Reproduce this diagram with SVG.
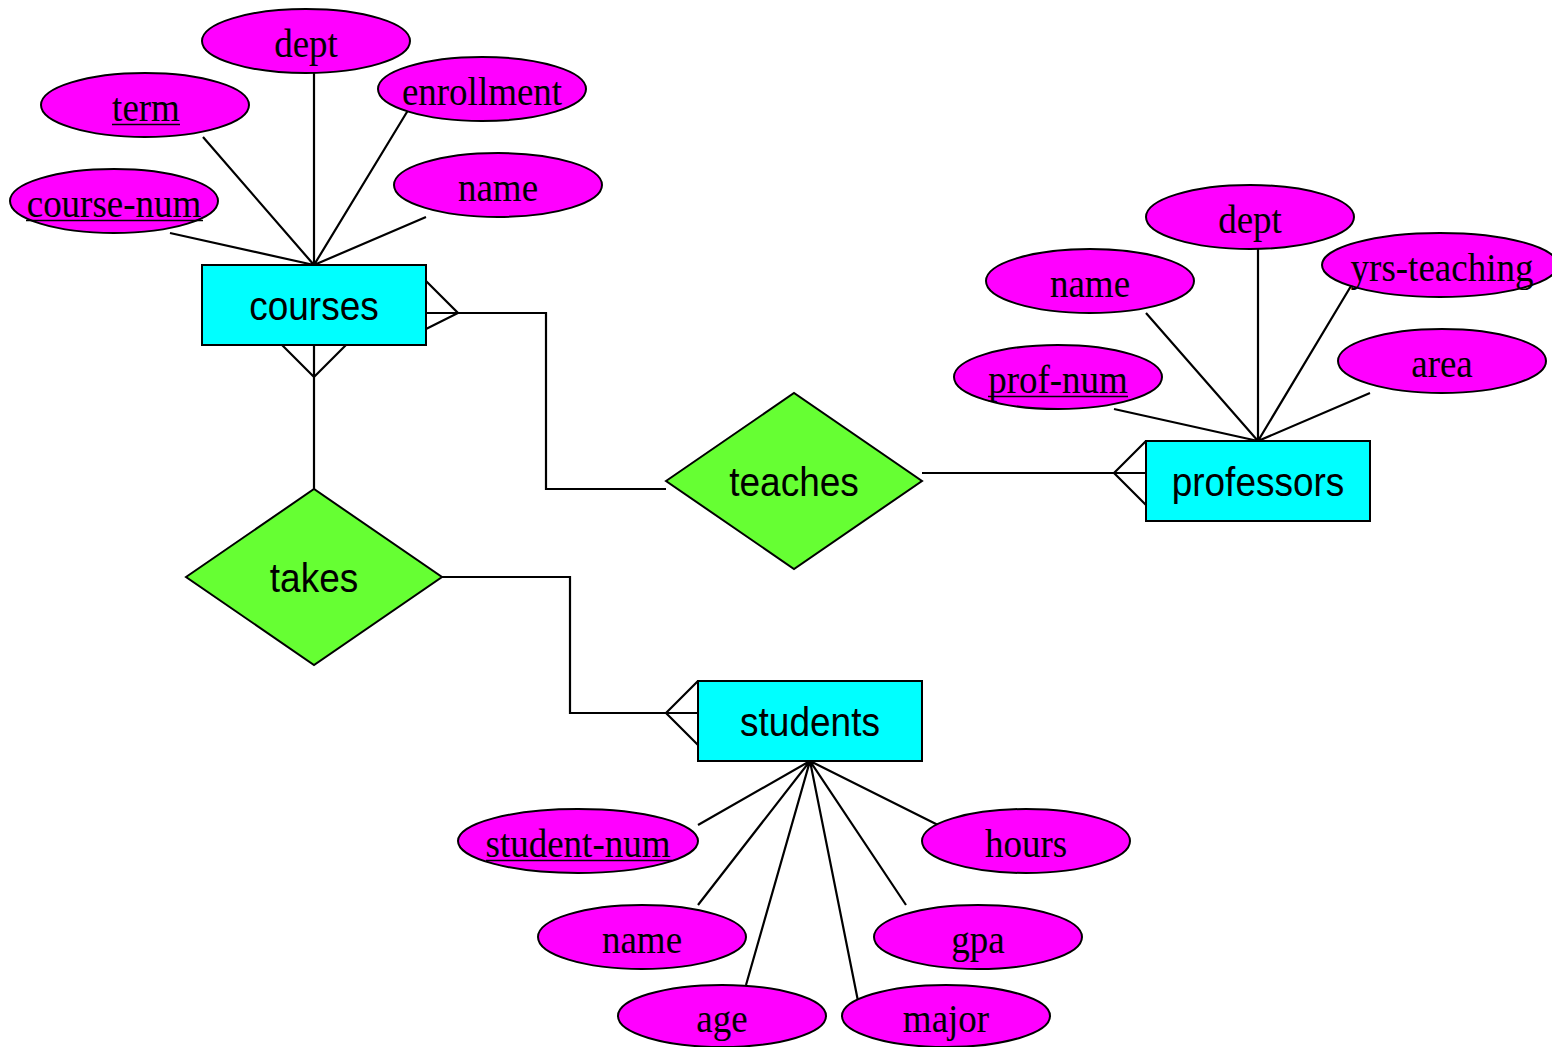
<svg xmlns="http://www.w3.org/2000/svg" width="1552" height="1047" viewBox="0 0 1552 1047">
<style>
.ent{fill:#00ffff;stroke:#000;stroke-width:2}
.rel{fill:#66ff33;stroke:#000;stroke-width:2}
.att{fill:#ff00ff;stroke:#000;stroke-width:2}
.ln{fill:none;stroke:#000;stroke-width:2.2}
.at{font-family:"Liberation Serif","Times New Roman",serif;font-size:37px;fill:#000;text-anchor:middle}
.et{font-family:"Liberation Sans",Arial,sans-serif;font-size:37px;fill:#000;text-anchor:middle}
.ul{stroke:#000;stroke-width:1.6}
</style>
<rect width="1552" height="1047" fill="#fff"/>
<g id="connectors">
  <path class="ln" d="M170,233 L314,265 M203,137 L314,265 M314,73 L314,265 M410,107 L314,265 M426,217 L314,265"/>
  <path class="ln" d="M1114,409 L1258,441 M1146,313 L1258,441 M1258,249 L1258,441 M1354,281 L1258,441 M1370,393 L1258,441"/>
  <path class="ln" d="M698,825 L810,761 M938,825 L810,761 M698,905 L810,761 M906,905 L810,761 M746,985 L810,761 M858,1001 L810,761"/>
  <path class="ln" d="M426,281 L458,313 L426,329 M426,313 L546,313 L546,489 L666,489"/>
  <path class="ln" d="M282,345 L314,377 L346,345 M314,345 L314,489"/>
  <path class="ln" d="M922,473 L1146,473 M1146,441 L1114,473 L1146,505"/>
  <path class="ln" d="M442,577 L570,577 L570,713 L698,713 M698,681 L666,713 L698,745"/>
</g>
<g id="courses">
  <rect class="ent" x="202" y="265" width="224" height="80"/>
  <text class="et" transform="translate(314,320) scale(1,1.12)">courses</text>
</g>
<g id="professors">
  <rect class="ent" x="1146" y="441" width="224" height="80"/>
  <text class="et" transform="translate(1258,496) scale(1,1.12)">professors</text>
</g>
<g id="students">
  <rect class="ent" x="698" y="681" width="224" height="80"/>
  <text class="et" transform="translate(810,736) scale(1,1.12)">students</text>
</g>
<g id="teaches">
  <polygon class="rel" points="666,481 794,393 922,481 794,569"/>
  <text class="et" transform="translate(794,496) scale(1,1.12)">teaches</text>
</g>
<g id="takes">
  <polygon class="rel" points="186,577 314,489 442,577 314,665"/>
  <text class="et" transform="translate(314,592) scale(1,1.12)">takes</text>
</g>
<g id="c-dept"><ellipse class="att" cx="306" cy="41" rx="104" ry="32"/><text class="at" transform="translate(306,57) scale(1,1.07)">dept</text></g>
<g id="c-term"><ellipse class="att" cx="145" cy="105" rx="104" ry="32"/><text class="at" transform="translate(146,121) scale(1,1.07)">term</text><line class="ul" x1="112" y1="124.5" x2="180" y2="124.5"/></g>
<g id="c-enrollment"><ellipse class="att" cx="482" cy="89" rx="104" ry="32"/><text class="at" transform="translate(482,105) scale(1,1.07)">enrollment</text></g>
<g id="c-course-num"><ellipse class="att" cx="114" cy="201" rx="104" ry="32"/><text class="at" transform="translate(114,217) scale(1,1.07)">course-num</text><line class="ul" x1="26" y1="220.5" x2="203" y2="220.5"/></g>
<g id="c-name"><ellipse class="att" cx="498" cy="185" rx="104" ry="32"/><text class="at" transform="translate(498,201) scale(1,1.07)">name</text></g>
<g id="p-dept"><ellipse class="att" cx="1250" cy="217" rx="104" ry="32"/><text class="at" transform="translate(1250,233) scale(1,1.07)">dept</text></g>
<g id="p-name"><ellipse class="att" cx="1090" cy="281" rx="104" ry="32"/><text class="at" transform="translate(1090,297) scale(1,1.07)">name</text></g>
<g id="p-yrs-teaching"><ellipse class="att" cx="1440" cy="265" rx="118" ry="32"/><text class="at" transform="translate(1442,281) scale(1,1.07)">yrs-teaching</text></g>
<g id="p-prof-num"><ellipse class="att" cx="1058" cy="377" rx="104" ry="32"/><text class="at" transform="translate(1058,393) scale(1,1.07)">prof-num</text><line class="ul" x1="988" y1="396.5" x2="1128" y2="396.5"/></g>
<g id="p-area"><ellipse class="att" cx="1442" cy="361" rx="104" ry="32"/><text class="at" transform="translate(1442,377) scale(1,1.07)">area</text></g>
<g id="s-student-num"><ellipse class="att" cx="578" cy="841" rx="120" ry="32"/><text class="at" transform="translate(578,857) scale(1,1.07)">student-num</text><line class="ul" x1="486" y1="860.5" x2="672" y2="860.5"/></g>
<g id="s-hours"><ellipse class="att" cx="1026" cy="841" rx="104" ry="32"/><text class="at" transform="translate(1026,857) scale(1,1.07)">hours</text></g>
<g id="s-name"><ellipse class="att" cx="642" cy="937" rx="104" ry="32"/><text class="at" transform="translate(642,953) scale(1,1.07)">name</text></g>
<g id="s-gpa"><ellipse class="att" cx="978" cy="937" rx="104" ry="32"/><text class="at" transform="translate(978,953) scale(1,1.07)">gpa</text></g>
<g id="s-age"><ellipse class="att" cx="722" cy="1016" rx="104" ry="31"/><text class="at" transform="translate(722,1032) scale(1,1.07)">age</text></g>
<g id="s-major"><ellipse class="att" cx="946" cy="1016" rx="104" ry="31"/><text class="at" transform="translate(946,1032) scale(1,1.07)">major</text></g>
</svg>
